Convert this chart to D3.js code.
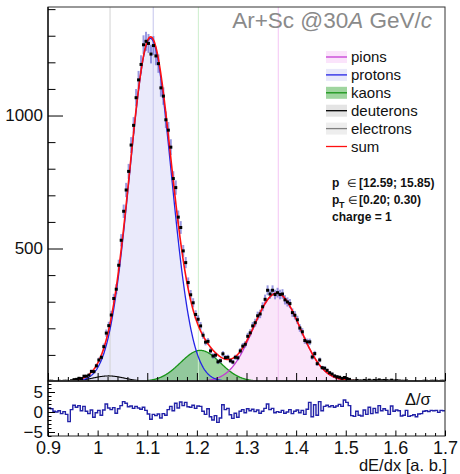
<!DOCTYPE html>
<html><head><meta charset="utf-8">
<script src="https://cdn.jsdelivr.net/npm/d3@7"></script>
<style>body{margin:0;background:#fff}svg{display:block}</style>
</head><body>
<svg id="c" width="460" height="474"></svg>
<script>
// ---------- data ----------
const binLow = 0.9, binWidth = 0.005;
const counts = [
1,1,0,0,1,0,1,1,0,3,
7,8,12,11,20,20,24,38,37,59,
81,91,131,182,210,250,312,347,437,531,
640,720,790,889,963,1067,1134,1192,1266,1279,
1271,1231,1263,1224,1195,1104,1073,984,945,881,
763,729,618,579,491,447,372,326,296,252,
234,209,174,148,151,115,96,99,74,78,
104,90,91,78,73,91,89,115,133,140,
170,183,209,221,247,254,281,309,343,329,
343,327,334,327,329,307,299,293,259,249,
232,201,187,154,149,149,92,105,67,81,
52,50,42,33,28,21,18,16,12,15,
11,8,2,2,4,2,2,4,2,5,
2,4,3,6,3,4,3,2,5,2,
3,2,1,1,2,0,0,0,0,0,
0,1,1,0,1,1,1,0,1,1];
const residuals = [
1.0,0.8,0.2,0.0,0.3,-0.4,0.1,-0.6,-2.4,0.6,
1.7,1.2,1.6,0.3,1.4,0.2,-0.4,0.5,-1.3,-0.2,
0.4,-0.8,0.5,2.0,1.0,0.6,1.1,-0.3,0.8,1.6,
2.6,2.2,1.3,1.5,0.9,1.4,1.0,0.7,1.2,0.4,
-0.5,-1.8,-0.6,-0.9,-0.5,-1.5,-0.4,-0.8,0.6,1.4,
0.3,2.2,1.0,2.5,1.6,2.4,1.3,1.2,1.7,0.9,
1.5,1.4,0.2,-0.6,0.8,-1.2,-2.0,-0.9,-2.6,-1.5,
1.8,0.6,0.9,-0.7,-1.6,-0.3,-1.3,0.2,0.6,-0.2,
0.8,0.3,0.7,0.1,0.5,-0.3,0.2,0.9,2.0,0.6,
0.9,-0.2,0.1,-0.1,0.4,-0.3,0.0,0.6,-0.4,0.2,
0.5,-0.2,0.4,-0.6,0.7,2.4,-1.2,1.8,-0.8,2.6,
0.3,1.4,1.7,1.3,1.6,1.2,1.5,1.9,1.4,3.0,
2.4,1.6,-0.9,-1.1,0.2,-0.8,-1.0,0.5,-0.6,1.2,
-0.4,0.9,-0.2,1.6,0.3,0.8,0.4,-0.6,1.5,0.2,
0.5,0.3,-1.0,-0.8,0.4,-1.1,-0.9,-0.7,-1.2,-0.5,
-0.4,0.2,0.3,0.1,0.4,0.3,0.4,-0.1,0.4,0.3];
// fit components (gaussians)
const species = ["pions","protons","kaons","deuterons","electrons"];
const amps   = [332, 1290, 117, 21, 3];
const means  = [1.361, 1.1065, 1.207, 1.022, 1.56];
const sigmas = [0.047, 0.042, 0.040, 0.032, 0.05];
const markPos = [1.025, 1.112, 1.203, 1.364];
const xMajor = [0.9,1,1.1,1.2,1.3,1.4,1.5,1.6,1.7];
const yMajor = [500,1000];
const rMajor = [-5,0,5];
const legendLabels = ["pions","protons","kaons","deuterons","electrons","sum"];

// ---------- styles ----------
const fillCol = {pions:"#fae6fa", protons:"#eaeafb", kaons:"rgba(40,160,40,0.45)", deuterons:"rgba(140,140,140,0.12)", electrons:"rgba(170,170,170,0.12)"};
const lineCol = {pions:"#c43cd4", protons:"#2424e6", kaons:"#189418", deuterons:"#000", electrons:"#808080", sum:"#ff1010"};
const legFill = {pions:"#fbe4fb", protons:"#e8e8fa", kaons:"#9fd59f", deuterons:"#e4e4e4", electrons:"#eeeeee", sum:"none"};
const markCol = ["#d2d2d2","#c4c4ec","#cdeecd","#f4c4f4"];
const FONT = "'Liberation Sans', Arial, Helvetica, sans-serif";

// ---------- layout ----------
const X0=48, X1=445, YT=7, YB=381, RB=436;
const svg = d3.select("#c");
const x  = d3.scaleLinear().domain([0.9,1.7]).range([X0,X1]);
const y  = d3.scaleLinear().domain([0,1408]).range([381.5,YT]);
const yr = d3.scaleLinear().domain([-6,7.75]).range([RB,YB]);

const defs = svg.append("defs");
defs.append("clipPath").attr("id","cm").append("rect").attr("x",X0).attr("y",YT).attr("width",X1-X0).attr("height",YB-YT);
defs.append("clipPath").attr("id","cr").append("rect").attr("x",X0).attr("y",YB).attr("width",X1-X0).attr("height",RB-YB);

const gm = svg.append("g").attr("clip-path","url(#cm)");
const xs = d3.range(0, 801).map(k => 0.9 + k*0.001);
const gauss = (v,k) => amps[k]*Math.exp(-0.5*((v-means[k])/sigmas[k])**2);
const total = v => d3.sum(species, (s,k) => gauss(v,k));

// fills
const fillOrder = ["protons","pions","deuterons","electrons","kaons"];
fillOrder.forEach(s => {
  const k = species.indexOf(s);
  gm.append("path").datum(xs)
    .attr("d", d3.area().x(d=>x(d)).y0(y(0)).y1(d=>y(gauss(d,k))))
    .attr("fill", fillCol[s]).attr("stroke","none");
});
// marker lines
markPos.forEach((m,i) => gm.append("line").attr("x1",x(m)).attr("x2",x(m)).attr("y1",YT).attr("y2",YB)
  .attr("stroke",markCol[i]).attr("stroke-width",1));
// component curves
["deuterons","electrons","kaons","pions","protons"].forEach(s => {
  const k = species.indexOf(s);
  gm.append("path").datum(xs)
    .attr("d", d3.line().x(d=>x(d)).y(d=>y(gauss(d,k))))
    .attr("fill","none").attr("stroke", lineCol[s]).attr("stroke-width", s==="deuterons"?1.1:1.3);
});
// data
const bins = counts.map((n,i) => ({c: binLow + (i+0.5)*binWidth, n}));
const pts = bins.filter(b => b.n > 0);
gm.append("g").selectAll("line").data(pts).join("line")
  .attr("x1",d=>x(d.c)).attr("x2",d=>x(d.c))
  .attr("y1",d=>y(d.n - Math.sqrt(d.n))).attr("y2",d=>y(d.n + Math.sqrt(d.n)))
  .attr("stroke","rgba(70,70,200,0.55)").attr("stroke-width",2);
// sum
gm.append("path").datum(xs)
  .attr("d", d3.line().x(d=>x(d)).y(d=>y(total(d))))
  .attr("fill","none").attr("stroke", lineCol.sum).attr("stroke-width",1.6);
gm.append("g").selectAll("rect").data(pts).join("rect")
  .attr("x",d=>x(d.c)-1.5).attr("y",d=>y(d.n)-1.5).attr("width",3).attr("height",3).attr("fill","#000");

// residual histogram
const gr = svg.append("g").attr("clip-path","url(#cr)");
const rpts = residuals.map((r,i) => [binLow + i*binWidth, r]);
rpts.push([1.7, residuals[residuals.length-1]]);
gr.append("path").datum(rpts)
  .attr("d", d3.line().x(d=>x(d[0])).y(d=>yr(d[1])).curve(d3.curveStepAfter))
  .attr("fill","none").attr("stroke","#2222a8").attr("stroke-width",1.4);

// frames
svg.append("rect").attr("x",X0).attr("y",YT).attr("width",X1-X0).attr("height",YB-YT)
  .attr("fill","none").attr("stroke","#333").attr("stroke-width",1);
svg.append("rect").attr("x",X0).attr("y",YB).attr("width",X1-X0).attr("height",RB-YB)
  .attr("fill","none").attr("stroke","#222").attr("stroke-width",1);
svg.append("line").attr("x1",X0).attr("x2",X1).attr("y1",YB).attr("y2",YB).attr("stroke","#333").attr("stroke-width",1.8);
svg.append("line").attr("x1",X0).attr("x2",X0).attr("y1",YT).attr("y2",RB).attr("stroke","#000").attr("stroke-width",1.2);

// axes
function axis(gen, tx, ty, size) {
  const a = svg.append("g").attr("transform",`translate(${tx},${ty})`).call(gen);
  a.select(".domain").remove();
  a.attr("font-family", FONT).attr("font-size", size||17);
  a.selectAll("line").attr("stroke","#000");
  a.selectAll("text").attr("fill","#111");
  return a;
}
const minorX = d3.range(0,41).filter(k=>k%5).map(k=>0.9+k*0.02);
// main x
axis(d3.axisBottom(x).tickValues(xMajor).tickSize(-8).tickFormat(""), 0, YB);
axis(d3.axisBottom(x).tickValues(minorX).tickSize(-4).tickFormat(""), 0, YB);
// main y
axis(d3.axisLeft(y).tickValues(yMajor).tickSize(-15).tickPadding(5).tickFormat(d3.format("d")), X0, 0, 17);
axis(d3.axisLeft(y).tickValues(d3.range(100,1401,100).filter(v=>v%500)).tickSize(-7.5).tickFormat(""), X0, 0);
// residual x
axis(d3.axisBottom(x).tickValues(xMajor).tickSize(-5.5).tickPadding(5).tickFormat(d=>String(+d.toFixed(1))), 0, RB, 18);
axis(d3.axisBottom(x).tickValues(minorX).tickSize(-3).tickFormat(""), 0, RB);
// residual y
axis(d3.axisLeft(yr).tickValues(rMajor).tickSize(-7).tickPadding(5).tickFormat(d3.format("d")), X0, 0, 17);
axis(d3.axisLeft(yr).tickValues(d3.range(-6,8).filter(v=>v%5)).tickSize(-3.5).tickFormat(""), X0, 0);

// titles
const t = svg.append("text").attr("x",432).attr("y",28).attr("text-anchor","end")
  .attr("font-family",FONT).attr("font-size",22.5).attr("fill","#8a8a8a");
t.append("tspan").text("Ar+Sc @30");
t.append("tspan").attr("font-style","italic").text("A");
t.append("tspan").text(" GeV/");
t.append("tspan").attr("font-style","italic").text("c");

svg.append("text").attr("x",447).attr("y",471).attr("text-anchor","end")
  .attr("font-family",FONT).attr("font-size",16.5).attr("fill","#111").text("dE/dx [a. b.]");
svg.append("text").attr("x",405).attr("y",405)
  .attr("font-family",FONT).attr("font-size",16.5).attr("fill","#111").text("Δ/σ");

// legend
const leg = svg.append("g").attr("font-family",FONT).attr("font-size",15);
legendLabels.forEach((s,i) => {
  const cy = 57 + i*17.9;
  if (legFill[s] !== "none")
    leg.append("rect").attr("x",326).attr("y",cy-6).attr("width",21).attr("height",12).attr("fill",legFill[s]);
  leg.append("line").attr("x1",326).attr("x2",347).attr("y1",cy).attr("y2",cy)
    .attr("stroke",lineCol[s]).attr("stroke-width",1.3);
  leg.append("text").attr("x",351).attr("y",cy+5).attr("fill","#111").text(s);
});

// annotations
const ann = svg.append("g").attr("font-family",FONT).attr("fill","#111");
const a1 = ann.append("text").attr("y",187).attr("font-size",12).attr("font-weight","bold");
a1.append("tspan").attr("x",332).text("p");
a1.append("tspan").attr("x",347).attr("font-weight","normal").attr("font-size",11).text("∈");
a1.append("tspan").attr("x",359).text("[12.59; 15.85)");
const a2 = ann.append("text").attr("y",204).attr("font-size",12).attr("font-weight","bold");
a2.append("tspan").attr("x",332).text("p");
a2.append("tspan").attr("x",339).attr("dy",4).attr("font-size",9).text("T");
a2.append("tspan").attr("x",348).attr("dy",-4).attr("font-weight","normal").attr("font-size",11).text("∈");
a2.append("tspan").attr("x",359).text("[0.20; 0.30)");
ann.append("text").attr("x",332).attr("y",221).attr("font-size",12).attr("font-weight","bold").text("charge = 1");
</script>
</body></html>
